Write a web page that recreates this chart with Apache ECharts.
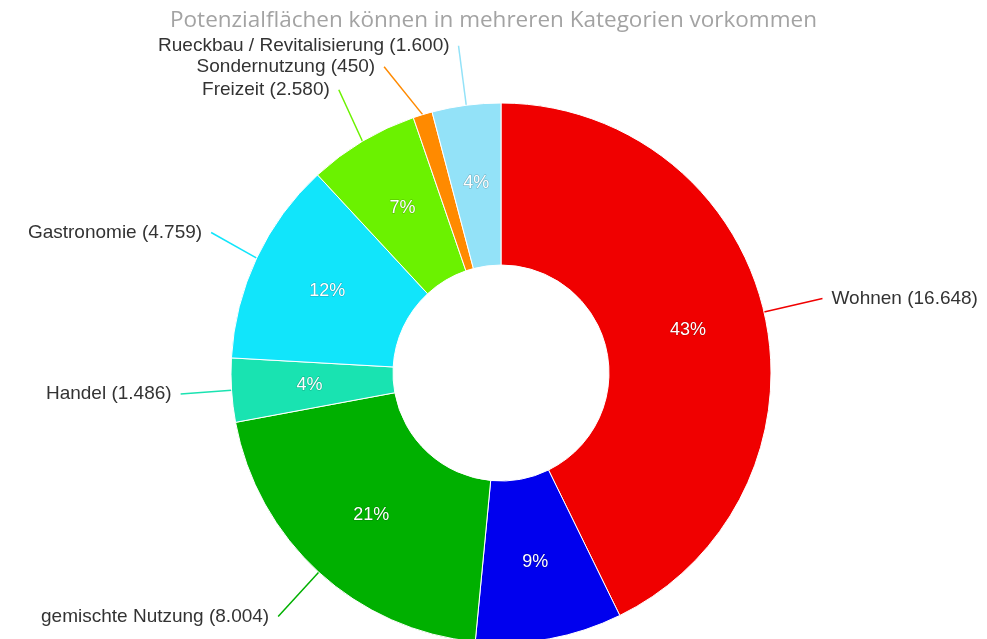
<!DOCTYPE html>
<html>
<head>
<meta charset="utf-8">
<script src="https://cdn.jsdelivr.net/npm/echarts@6/dist/echarts.min.js"></script>
<style>
html,body{margin:0;padding:0;background:#fff;}
#chart{width:987px;height:639px;}
</style>
</head>
<body>
<div id="chart"></div>
<script>
const titleText = 'Potenzialflächen können in mehreren Kategorien vorkommen';
const categories = ['Wohnen', 'Gewerbe', 'gemischte Nutzung', 'Handel', 'Gastronomie', 'Freizeit', 'Sondernutzung', 'Rueckbau / Revitalisierung'];
const values = [16648, 3416, 8004, 1486, 4759, 2580, 450, 1600];
const colors = ['#F00000', '#0000EE', '#00B000', '#19E3B1', '#11E5FB', '#6BF200', '#FF8A00', '#93E2F8'];
const hiddenOuterLabels = ['Gewerbe'];

function fmt(v) {
  return String(v).replace(/\B(?=(\d{3})+(?!\d))/g, '.');
}

const outerData = categories.map((c, i) => {
  const d = { name: c, value: values[i], itemStyle: { color: colors[i] } };
  if (hiddenOuterLabels.indexOf(c) >= 0) {
    d.label = { show: false };
    d.labelLine = { show: false };
  }
  return d;
});
const innerData = categories.map((c, i) => ({ name: c, value: values[i] }));

const chart = echarts.init(document.getElementById('chart'), null, { renderer: 'canvas' });
chart.setOption({
  animation: false,
  title: {
    text: titleText,
    left: 'center',
    top: 4,
    textStyle: { color: '#A3A3A3', fontSize: 22.5, fontWeight: 'normal', fontFamily: 'Open Sans' }
  },
  series: [
    {
      type: 'pie',
      center: [501, 373],
      radius: [108, 270],
      startAngle: 90,
      clockwise: true,
      avoidLabelOverlap: true,
      itemStyle: { borderColor: '#fff', borderWidth: 1 },
      label: {
        show: true,
        position: 'outside',
        color: '#333',
        fontSize: 19,
        fontFamily: 'Liberation Sans',
        overflow: 'none',
        edgeDistance: 0,
        distanceToLabelLine: 9,
        formatter: p => p.name + ' (' + fmt(p.value) + ')'
      },
      labelLine: { show: true, length: 60, length2: 0, smooth: false, lineStyle: { width: 1.5 } },
      data: outerData
    },
    {
      type: 'pie',
      center: [501, 373],
      radius: [108, 270],
      startAngle: 90,
      clockwise: true,
      silent: true,
      itemStyle: { color: 'rgba(0,0,0,0)', borderWidth: 0 },
      label: {
        show: true,
        position: 'inside',
        color: '#fff',
        fontSize: 18,
        fontFamily: 'Liberation Sans',
        textBorderColor: 'rgba(0,0,0,0.25)',
        textBorderWidth: 1,
        formatter: p => p.percent >= 3 ? Math.round(p.percent) + '%' : ''
      },
      labelLine: { show: false },
      data: innerData
    }
  ]
});
</script>
</body>
</html>
